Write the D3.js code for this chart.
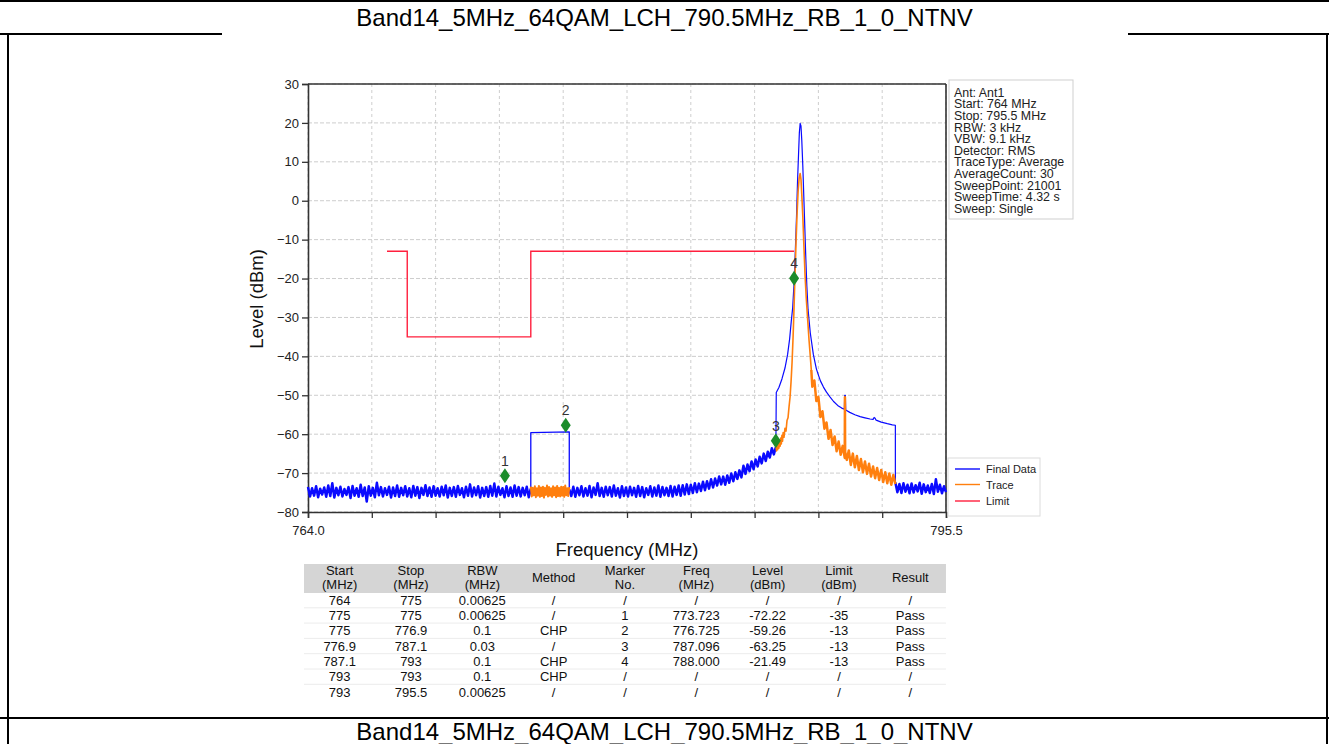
<!DOCTYPE html>
<html><head><meta charset="utf-8">
<script src="https://cdn.jsdelivr.net/npm/d3@7"></script>
<style>
body{margin:0;background:#fff;}
svg{display:block;}
text{font-family:Arial,"Liberation Sans",sans-serif;}
</style>
</head><body>
<svg id="c" width="1329" height="744"></svg>
<script>
// ---------- text ----------
const titleText = "Band14_5MHz_64QAM_LCH_790.5MHz_RB_1_0_NTNV";
const xLabel = "Frequency (MHz)";
const yLabel = "Level (dBm)";
const infoLines = ["Ant: Ant1","Start: 764 MHz","Stop: 795.5 MHz","RBW: 3 kHz","VBW: 9.1 kHz","Detector: RMS","TraceType: Average","AverageCount: 30","SweepPoint: 21001","SweepTime: 4.32 s","Sweep: Single"];
const legendNames = ["Final Data","Trace","Limit"];

// ---------- axes ----------
const xDomain = [764.0, 795.5];
const yDomain = [-80, 30];
const yTicks = [-80,-70,-60,-50,-40,-30,-20,-10,0,10,20,30];
const xTicks = [764.0,767.15,770.3,773.45,776.6,779.75,782.9,786.05,789.2,792.35,795.5];
const xTickLabels = ["764.0","","","","","","","","","","795.5"];

// ---------- Final Data (blue) ----------
// noise floor 764.0 - 775.0, 0.1 MHz step
const finalFloorA = [
-73.6,-76.0,-73.9,-75.8,-73.4,-76.2,-74.0,-75.5,-73.7,-76.1,
-73.2,-75.9,-72.6,-76.3,-73.8,-75.7,-73.5,-76.0,-74.1,-75.6,
-73.6,-76.4,-73.3,-75.8,-73.9,-76.1,-73.0,-75.9,-73.7,-77.3,
-73.4,-75.8,-73.8,-76.2,-72.5,-75.7,-73.6,-76.0,-73.9,-75.6,
-73.5,-76.3,-73.7,-75.9,-73.2,-76.1,-73.8,-75.7,-73.4,-76.0,
-73.9,-76.2,-73.3,-75.8,-73.6,-76.4,-73.8,-75.6,-73.1,-75.9,
-73.7,-76.1,-73.4,-75.8,-73.9,-76.0,-73.5,-75.7,-73.2,-76.3,
-73.8,-75.9,-73.6,-76.1,-73.3,-75.6,-73.9,-76.2,-73.5,-75.8,
-72.9,-76.0,-73.7,-75.7,-73.4,-76.3,-73.8,-75.9,-73.6,-76.1,
-73.3,-75.8,-72.7,-76.0,-73.5,-75.6,-73.9,-76.2,-73.4,-75.9,
-73.7,-76.1,-73.2,-75.8,-73.6,-76.0,-73.8,-75.7,-73.5,-76.2,
-74.0];
// channel power segment 775 - 776.9
const finalChp1 = [[775.0,-59.6],[776.9,-59.4]];
// noise floor 776.9 - 787.1, 0.1 MHz step
const finalFloorB = [
-74.2,-75.9,-73.5,-76.1,-73.8,-75.7,-73.4,-76.0,-73.9,-75.8,
-73.3,-76.2,-73.7,-75.6,-72.6,-75.9,-73.8,-76.1,-73.5,-75.7,
-73.6,-76.0,-73.2,-75.8,-73.9,-76.3,-73.4,-75.9,-73.7,-76.0,
-73.5,-75.7,-73.8,-76.1,-73.3,-75.9,-73.6,-76.2,-73.9,-75.6,
-73.4,-76.0,-73.7,-75.8,-73.2,-76.1,-73.6,-75.7,-73.8,-75.9,
-73.3,-76.0,-73.5,-75.6,-73.2,-75.8,
-73.1,-75.5,-72.9,-75.4,-73.0,-75.1,-72.6,-74.9,-72.7,-74.6,
-72.2,-74.4,-72.1,-74.0,-71.6,-73.7,-71.4,-73.2,-70.9,-72.9,
-70.9,-73.0,-70.6,-72.5,-70.1,-72.1,-69.8,-71.5,-69.3,-71.1,
-68.1,-70.2,-67.8,-69.5,-67.0,-69.0,-66.5,-68.3,-65.8,-67.5,
-65.0,-66.9,-64.5,-66.0,-63.6,-65.2,-63.3];
// wide-RBW envelope 787.1 - 793
const finalEnvelope = [
[787.12,-49.3],[787.25,-48.0],[787.4,-45.8],[787.55,-43.0],[787.68,-39.5],[787.78,-35.5],
[787.86,-31.0],[787.93,-27.5],[788.0,-21.0],[788.06,-13.0],[788.12,-4.0],[788.17,5.0],
[788.22,12.0],[788.26,17.5],[788.3,19.9],[788.34,19.2],[788.38,15.5],[788.43,9.0],
[788.48,1.0],[788.53,-7.0],[788.58,-15.0],[788.63,-22.0],[788.69,-28.0],[788.8,-34.0],
[788.95,-39.5],[789.1,-43.2],[789.18,-44.5],[789.3,-46.3],[789.45,-47.9],[789.6,-49.2],
[789.77,-50.4],[789.95,-51.6],[790.15,-52.6],[790.35,-53.3],[790.48,-53.6],[790.5,-50.0],
[790.53,-50.0],[790.55,-53.8],[790.75,-54.4],[791.0,-55.0],[791.26,-55.5],[791.5,-55.8],
[791.75,-56.1],[791.9,-56.2],[791.95,-55.7],[792.0,-55.9],[792.05,-56.4],[792.3,-56.9],
[792.6,-57.3],[792.85,-57.6],[793.0,-57.7]];
// noise floor 793.0 - 795.5, 0.1 MHz step
const finalFloorC = [
-72.4,-74.9,-72.8,-75.1,-72.6,-74.8,-73.0,-75.2,-72.7,-75.0,
-73.1,-74.7,-72.5,-75.3,-72.9,-74.9,-73.2,-75.1,-72.8,-75.4,
-71.6,-74.8,-73.0,-75.2,-73.4,-74.9];

// ---------- Trace (orange) ----------
// 775.0 - 776.9, 0.05 MHz step
const traceSeg1 = [
-73.5,-76.0,-73.8,-75.7,-73.4,-76.2,-73.9,-75.8,-73.3,-76.1,
-73.7,-75.9,-73.5,-76.3,-73.8,-75.6,-73.2,-76.0,-73.6,-75.8,
-73.9,-76.1,-73.4,-75.7,-73.7,-76.2,-73.3,-75.9,-73.8,-76.0,
-73.5,-75.8,-73.6,-76.1,-73.2,-75.7,-73.9,-75.9,-73.6];
// 787.1 - 788.85 (near-carrier part)
const traceSeg2 = [
[787.1,-62.4],[787.13,-64.3],[787.16,-62.2],[787.19,-64.0],[787.22,-61.9],[787.25,-63.6],
[787.28,-61.5],[787.31,-63.1],[787.34,-61.0],[787.37,-62.5],[787.4,-60.3],[787.43,-61.8],
[787.46,-59.6],[787.5,-60.8],[787.55,-58.5],[787.6,-59.2],[787.65,-56.5],[787.7,-55.8],
[787.75,-53.0],[787.8,-50.5],[787.85,-46.5],[787.9,-41.5],[787.95,-35.0],[788.0,-27.0],
[788.05,-18.0],[788.1,-10.0],[788.15,-3.0],[788.2,2.5],[788.25,5.8],[788.3,7.0],
[788.34,5.5],[788.38,1.5],[788.43,-4.0],[788.48,-11.0],[788.54,-19.0],[788.6,-25.0],
[788.67,-30.5],[788.74,-36.0],[788.8,-40.0],[788.85,-43.5]];
// 788.85 - 793.0 (noisy skirt)
const traceSeg3 = [
[788.85,-43.5],[788.9,-47.8],[789.0,-46.2],
[789.1,-51.5],[789.2,-50.4],[789.3,-55.6],[789.4,-54.1],[789.5,-58.6],[789.6,-57.0],
[789.7,-61.2],[789.8,-58.9],[789.9,-62.8],[790.0,-60.6],[790.1,-64.4],[790.2,-61.9],
[790.3,-65.3],[790.4,-63.0],[790.5,-66.1],[790.51,-50.5],[790.52,-64.5],[790.6,-66.6],
[790.7,-64.2],[790.8,-67.9],[790.9,-65.0],[791.0,-68.5],[791.1,-65.6],[791.2,-69.2],
[791.3,-66.4],[791.4,-69.8],[791.5,-67.0],[791.6,-70.2],[791.7,-67.6],[791.8,-70.9],
[791.9,-68.3],[792.0,-71.3],[792.1,-68.7],[792.2,-71.8],[792.3,-69.2],[792.4,-72.3],
[792.5,-69.8],[792.6,-72.6],[792.7,-70.1],[792.8,-73.0],[792.9,-70.5],[793.0,-72.8]];

// ---------- Limit (red) ----------
const limitLine = [[767.9,-13],[768.9,-13],[768.9,-35],[775.0,-35],[775.0,-13],[788.0,-13]];

// ---------- Markers ----------
const markerNos = ["1","2","3","4"];
const markerFreqs = [773.723, 776.725, 787.096, 788.000];
const markerLevels = [-72.22, -59.26, -63.25, -21.49];

// ---------- Table ----------
const tableHeaders = [["Start","(MHz)"],["Stop","(MHz)"],["RBW","(MHz)"],["Method"],["Marker","No."],["Freq","(MHz)"],["Level","(dBm)"],["Limit","(dBm)"],["Result"]];
const tStart  = ["764","775","775","776.9","787.1","793","793"];
const tStop   = ["775","775","776.9","787.1","793","793","795.5"];
const tRbw    = ["0.00625","0.00625","0.1","0.03","0.1","0.1","0.00625"];
const tMethod = ["/","/","CHP","/","CHP","CHP","/"];
const tMarker = ["/","1","2","3","4","/","/"];
const tFreq   = ["/","773.723","776.725","787.096","788.000","/","/"];
const tLevel  = ["/","-72.22","-59.26","-63.25","-21.49","/","/"];
const tLimit  = ["/","-35","-13","-13","-13","/","/"];
const tResult = ["/","Pass","Pass","Pass","Pass","/","/"];

// ================= drawing =================
const svg = d3.select("#c");
const W = 1329, H = 744;
const C = {blue:"#0a0aff", orange:"#ff7f0e", red:"#ff1f3d", green:"#1b8c2a"};

// document frame
const frame = svg.append("g").attr("stroke","#000").attr("stroke-width",2);
frame.append("line").attr("x1",0).attr("x2",W).attr("y1",1).attr("y2",1);
frame.append("line").attr("x1",0).attr("x2",W).attr("y1",34).attr("y2",34);
frame.append("line").attr("x1",0).attr("x2",W).attr("y1",718).attr("y2",718);
frame.append("line").attr("x1",8).attr("x2",8).attr("y1",34).attr("y2",H);
frame.append("line").attr("x1",1327).attr("x2",1327).attr("y1",34).attr("y2",H);
// chart image background
svg.append("rect").attr("x",222).attr("y",33).attr("width",906).attr("height",683).attr("fill","#fff");

svg.append("text").attr("x",664.5).attr("y",26).attr("text-anchor","middle")
  .attr("font-size",24).attr("fill","#000").text(titleText);
svg.append("text").attr("x",664.5).attr("y",740).attr("text-anchor","middle")
  .attr("font-size",24).attr("fill","#000").text(titleText);

// scales
const L = 308, R = 946, T = 84, B = 512;
const x = d3.scaleLinear().domain(xDomain).range([L, R]);
const y = d3.scaleLinear().domain(yDomain).range([B, T]);

// grid
const grid = svg.append("g");
grid.selectAll(".hg").data(yTicks).join("line")
  .attr("x1",L).attr("x2",R).attr("y1",d=>y(d)).attr("y2",d=>y(d))
  .attr("stroke","#cdcdcd").attr("stroke-width",1).attr("stroke-dasharray","4,2");
grid.selectAll(".vg").data(xTicks).join("line")
  .attr("x1",d=>x(d)).attr("x2",d=>x(d)).attr("y1",T).attr("y2",B)
  .attr("stroke","#c2c2c2").attr("stroke-width",0.8).attr("stroke-dasharray","3,3");

// axes
const yAxis = svg.append("g").attr("transform",`translate(${L},0)`)
  .call(d3.axisLeft(y).tickValues(yTicks).tickSize(6).tickPadding(3).tickFormat(d3.format("d")));
const xAxis = svg.append("g").attr("transform",`translate(0,${B})`)
  .call(d3.axisBottom(x).tickValues(xTicks).tickSize(6).tickPadding(8).tickFormat((d,i)=>xTickLabels[i]));
[yAxis,xAxis].forEach(a=>{
  a.selectAll("path").attr("stroke","#333").attr("stroke-width",1.6);
  a.selectAll("line").attr("stroke","#333").attr("stroke-width",1.3);
  a.selectAll("text").attr("font-size",13).attr("fill","#222").attr("font-family","Arial,'Liberation Sans',sans-serif");
});
// top & right frame
svg.append("line").attr("x1",L).attr("x2",R).attr("y1",T).attr("y2",T).attr("stroke","#333").attr("stroke-width",1.6);
svg.append("line").attr("x1",R).attr("x2",R).attr("y1",T).attr("y2",B).attr("stroke","#333").attr("stroke-width",1.6);

// axis labels
svg.append("text").attr("x",627).attr("y",556).attr("text-anchor","middle")
  .attr("font-size",18.5).attr("fill","#111").text(xLabel);
svg.append("text").attr("transform","translate(263,299) rotate(-90)").attr("text-anchor","middle")
  .attr("font-size",18.5).attr("fill","#111").text(yLabel);

// series
const stepSeries = (start, step, vals) => vals.map((v,i)=>[start + i*step, v]);
const fA = stepSeries(764.0, 0.1, finalFloorA);
const fB = stepSeries(776.9, 0.1, finalFloorB);
const fC = stepSeries(793.0, 0.1, finalFloorC);
// Final Data pieces: dense noise floors drawn heavier, smooth parts thinner
const finalPieces = [
  {d: fA, w: 2.5},
  {d: [fA[fA.length-1], ...finalChp1, fB[0]], w: 1.3},
  {d: fB, w: 2.5},
  {d: [fB[fB.length-1], ...finalEnvelope, fC[0]], w: 1.2},
  {d: fC, w: 2.5}
];
const tracePieces = [
  {d: stepSeries(775.0, 0.05, traceSeg1), w: 2.0},
  {d: traceSeg2, w: 1.6},
  {d: traceSeg3, w: 2.5}
];
const line = d3.line().x(d=>x(d[0])).y(d=>y(d[1]));

finalPieces.forEach(p=>{
  svg.append("path").datum(p.d).attr("d",line).attr("fill","none")
    .attr("stroke",C.blue).attr("stroke-width",p.w).attr("stroke-linejoin","round");
});
tracePieces.forEach(p=>{
  svg.append("path").datum(p.d).attr("d",line).attr("fill","none")
    .attr("stroke",C.orange).attr("stroke-width",p.w).attr("stroke-linejoin","round");
});
svg.append("path").datum(limitLine).attr("d",line).attr("fill","none")
  .attr("stroke",C.red).attr("stroke-width",1.4);

// markers
const mk = svg.append("g");
markerFreqs.forEach((f,i)=>{
  const g = mk.append("g").attr("transform",`translate(${x(f)},${y(markerLevels[i]) - 6})`);
  g.append("path").attr("d","M0,-7.5L5,0L0,7.5L-5,0Z").attr("fill",C.green);
  g.append("text").attr("x",0).attr("y",-10).attr("text-anchor","middle")
    .attr("font-size",14).attr("fill","#333").text(markerNos[i]);
});

// info box
const info = svg.append("g");
info.append("rect").attr("x",949).attr("y",80).attr("width",124).attr("height",139)
  .attr("fill","#fff").attr("stroke","#cfcfcf").attr("stroke-width",1);
info.selectAll("text").data(infoLines).join("text")
  .attr("x",954).attr("y",(d,i)=>96.7 + i*11.6)
  .attr("font-size",12.4).attr("fill","#222").text(d=>d);

// legend
const lg = svg.append("g");
lg.append("rect").attr("x",948).attr("y",458).attr("width",92).attr("height",58)
  .attr("fill","#fff").attr("stroke","#dcdcdc").attr("stroke-width",1);
const legColors = [C.blue, C.orange, C.red];
const legY = [469, 484.5, 501];
legendNames.forEach((n,i)=>{
  lg.append("line").attr("x1",955).attr("x2",980).attr("y1",legY[i]).attr("y2",legY[i])
    .attr("stroke",legColors[i]).attr("stroke-width",1.4);
  lg.append("text").attr("x",986).attr("y",legY[i]+4).attr("font-size",11).attr("fill","#222").text(n);
});

// table
const tb = svg.append("g");
const colX0 = 304, colW = 71.33, rowY0 = 600, rowH = 15.3;
tb.append("rect").attr("x",colX0).attr("y",564).attr("width",colW*9).attr("height",29).attr("fill","#d5d5d5");
tableHeaders.forEach((h,ci)=>{
  const cx = colX0 + colW*ci + colW/2;
  if (h.length === 2) {
    tb.append("text").attr("x",cx).attr("y",574.7).attr("text-anchor","middle").attr("font-size",13).attr("fill","#111").text(h[0]);
    tb.append("text").attr("x",cx).attr("y",588.5).attr("text-anchor","middle").attr("font-size",13).attr("fill","#111").text(h[1]);
  } else {
    tb.append("text").attr("x",cx).attr("y",581.5).attr("text-anchor","middle").attr("font-size",13).attr("fill","#111").text(h[0]);
  }
});
const cols = [tStart,tStop,tRbw,tMethod,tMarker,tFreq,tLevel,tLimit,tResult];
for (let r = 0; r < tStart.length; r++) {
  if (r > 0) {
    tb.append("line").attr("x1",colX0).attr("x2",colX0+colW*9)
      .attr("y1",rowY0 - 7.5 + r*rowH).attr("y2",rowY0 - 7.5 + r*rowH)
      .attr("stroke","#ececec").attr("stroke-width",1);
  }
  cols.forEach((col,ci)=>{
    tb.append("text").attr("x",colX0 + colW*ci + colW/2).attr("y",rowY0 + 4.7 + r*rowH)
      .attr("text-anchor","middle").attr("font-size",13).attr("fill","#111").text(col[r]);
  });
}
</script>
</body></html>
